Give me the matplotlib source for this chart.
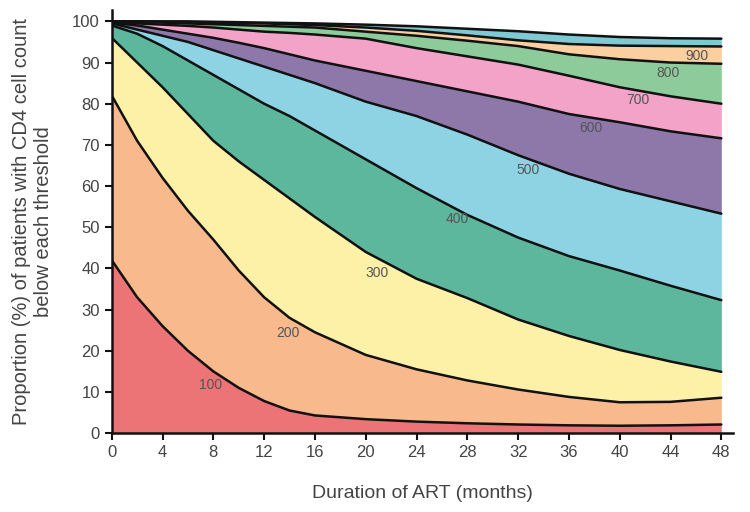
import matplotlib.pyplot as plt

plt.rcParams["font.family"] = ["Liberation Sans", "DejaVu Sans"]

months = [0, 2, 4, 6, 8, 10, 12, 14, 16, 20, 24, 28, 32, 36, 40, 44, 48]

below_100 = [42, 33, 26, 20, 15, 11, 7.8, 5.5, 4.3, 3.4, 2.8, 2.4, 2.1, 1.9, 1.8, 1.9, 2.1]
below_200 = [82, 71, 62, 54, 47, 39.5, 33, 28, 24.5, 19, 15.5, 12.8, 10.6, 8.8, 7.5, 7.6, 8.6]
below_300 = [96, 90, 84, 77.5, 71, 66, 61.5, 57, 52.5, 44, 37.5, 32.8, 27.6, 23.6, 20.2, 17.4, 14.9]
below_400 = [99, 97, 94, 90.5, 87, 83.5, 80, 77, 73.5, 66.5, 59.5, 53, 47.5, 43, 39.5, 35.8, 32.3]
below_500 = [99.5, 98, 96.5, 95, 93, 91, 89, 87, 85, 80.5, 77, 72.5, 67.5, 63, 59.3, 56.3, 53.3]
below_600 = [99.7, 99, 98, 97, 96, 94.8, 93.5, 92, 90.5, 88, 85.5, 83, 80.5, 77.5, 75.5, 73.3, 71.6]
below_700 = [99.8, 99.5, 99.2, 98.9, 98.5, 98, 97.5, 97.2, 96.8, 95.8, 93.5, 91.5, 89.5, 86.8, 84, 81.8, 80]
below_800 = [100, 99.9, 99.7, 99.5, 99.3, 99.1, 98.9, 98.7, 98.5, 97.5, 96.5, 95.3, 94, 92, 90.8, 90, 89.7]
below_900 = [100, 100, 99.9, 99.8, 99.7, 99.6, 99.5, 99.3, 99.1, 98.5, 97.7, 96.6, 95.4, 94.5, 94.1, 94, 93.9]
below_1000 = [100, 100, 100, 100, 99.9, 99.8, 99.7, 99.6, 99.5, 99.2, 98.8, 98.2, 97.6, 96.8, 96.2, 95.9, 95.8]

curves = [below_100, below_200, below_300, below_400, below_500,
          below_600, below_700, below_800, below_900, below_1000]
colors = ["#EC7376", "#F8B98C", "#FDF1A8", "#5DB79C", "#8DD3E3",
          "#8E78A9", "#F3A3C8", "#8ECB9B", "#FBCF9F", "#7FC9D2"]

label_text = ["100", "200", "300", "400", "500", "600", "700", "800", "900"]
label_x = [7.8, 13.9, 20.9, 27.2, 32.8, 37.7, 41.4, 43.8, 46.1]
label_y = [11.7, 24.3, 38.8, 52, 63.8, 74, 80.8, 87.4, 91.7]

fig = plt.figure(figsize=(7.5, 5.12), dpi=100)
ax = fig.add_axes([0.149, 0.154, 0.828, 0.826])

lower = [0] * len(months)
for vals, col in zip(curves, colors):
    ax.fill_between(months, lower, vals, color=col, linewidth=0)
    lower = vals

for vals in curves:
    ax.plot(months, vals, color="#111111", linewidth=1.8, solid_capstyle="round")

for t, x, y in zip(label_text, label_x, label_y):
    ax.text(x, y, t, fontsize=10, color="#555555", ha="center", va="center")

ax.set_xlim(0, 48.9)
ax.set_ylim(0, 102.7)
ax.set_xticks(range(0, 49, 4))
ax.set_yticks(range(0, 101, 10))
ax.spines["top"].set_visible(False)
ax.spines["right"].set_visible(False)
for s in ["left", "bottom"]:
    ax.spines[s].set_linewidth(1.8)
    ax.spines[s].set_color("#111111")
ax.tick_params(direction="out", length=5, width=1.5, color="#111111",
               labelsize=12, labelcolor="#444444")

ax.set_xlabel("Duration of ART (months)", fontsize=14, color="#444444", labelpad=18)
ax.set_ylabel("Proportion (%) of patients with CD4 cell count\nbelow each threshold",
              fontsize=14.5, color="#444444", labelpad=14)

fig.savefig("out.png", dpi=100)
